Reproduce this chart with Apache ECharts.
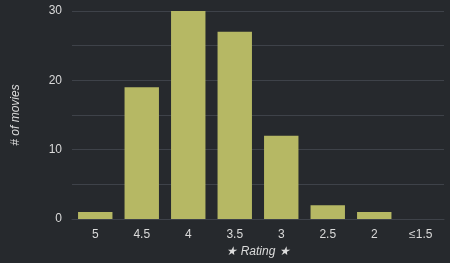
<!DOCTYPE html>
<html><head><meta charset="utf-8">
<script src="https://cdn.jsdelivr.net/npm/echarts@6/dist/echarts.min.js"></script>
<style>html,body{margin:0;padding:0;background:#26292d}#c{width:450px;height:263px}</style>
</head><body><div id="c"></div>
<script>
const categories = ['5','4.5','4','3.5','3','2.5','2','≤1.5'];
const counts = [1, 19, 30, 27, 12, 2, 1, 0];
const yTicks = [0, 10, 20, 30];

const chart = echarts.init(document.getElementById('c'));
chart.setOption({
  backgroundColor: '#26292d',
  animation: false,
  grid: {left: 72, right: 6, top: 11, bottom: 44},
  xAxis: {
    type: 'category', data: categories,
    name: '★ Rating ★', nameLocation: 'middle', nameGap: 26,
    nameTextStyle: {color: '#dcdcdc', fontSize: 12, fontStyle: 'italic', fontFamily: 'Liberation Sans'},
    axisLine: {show: true, lineStyle: {color: '#3e4249'}},
    axisTick: {show: false},
    axisLabel: {color: '#dadada', fontSize: 12, margin: 10, fontFamily: 'Liberation Sans'}
  },
  yAxis: {
    type: 'value', min: 0, max: 30, interval: 5,
    name: '# of movies', nameLocation: 'middle', nameGap: 50,
    nameTextStyle: {color: '#dcdcdc', fontSize: 12, fontStyle: 'italic', fontFamily: 'Liberation Sans'},
    axisLine: {show: false}, axisTick: {show: false},
    axisLabel: {color: '#dadada', fontSize: 12, margin: 10, fontFamily: 'Liberation Sans',
      formatter: v => yTicks.includes(v) ? String(v) : ''},
    splitLine: {lineStyle: {color: '#3e4249', width: 1}}
  },
  series: [{
    type: 'bar', data: counts, barCategoryGap: '26%',
    itemStyle: {color: '#b6b864'}
  }]
});
</script></body></html>
